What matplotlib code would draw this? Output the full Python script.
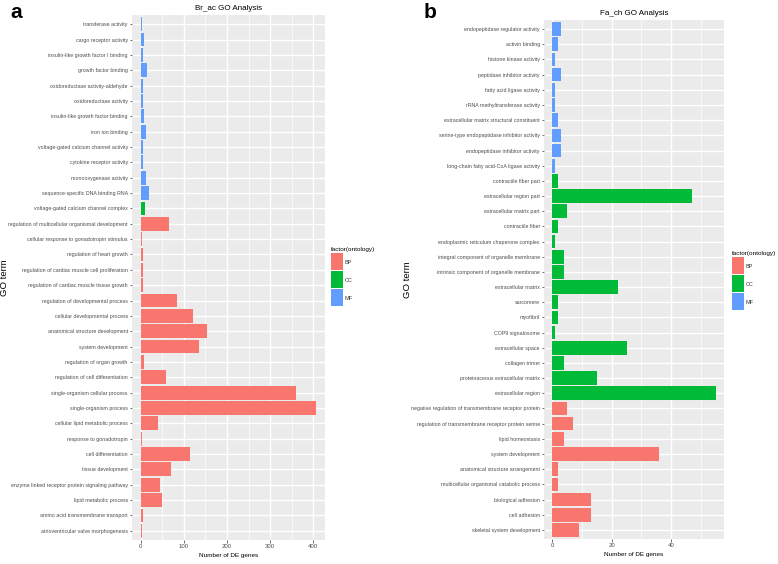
import matplotlib
matplotlib.use("Agg")
import matplotlib.pyplot as plt
from matplotlib.patches import Patch
from matplotlib.ticker import MultipleLocator, FixedLocator

# ---------------- data (listed top to bottom as shown) ----------------
left_terms = [
    "transferase activity", "cargo receptor activity", "insulin-like growth factor I binding",
    "growth factor binding", "oxidoreductase activity-aldehyde", "oxidoreductase activity",
    "insulin-like growth factor binding", "iron ion binding", "voltage-gated calcium channel activity",
    "cytokine receptor activity", "monooxygenase activity", "sequence-specific DNA binding RNA",
    "voltage-gated calcium channel complex",
    "regulation of multicellular organismal development", "cellular response to gonadotropin stimulus",
    "regulation of heart growth", "regulation of cardiac muscle cell proliferation",
    "regulation of cardiac muscle tissue growth", "regulation of developmental process",
    "cellular developmental process", "anatomical structure development", "system development",
    "regulation of organ growth", "regulation of cell differentiation",
    "single-organism cellular process", "single-organism process", "cellular lipid metabolic process",
    "response to gonadotropin", "cell differentiation", "tissue development",
    "enzyme linked receptor protein signaling pathway", "lipid metabolic process",
    "amino acid transmembrane transport", "atrioventricular valve morphogenesis",
]
left_counts = [2, 7, 5, 15, 5, 5, 7, 13, 5, 5, 11, 20,
               9,
               66, 3, 5, 5, 5, 83, 120, 154, 136, 8, 59, 361, 407, 40, 4, 114, 70, 44, 50, 5, 3]
left_ont = ["MF"] * 12 + ["CC"] * 1 + ["BP"] * 21

right_terms = [
    "endopeptidase regulator activity", "activin binding", "histone kinase activity",
    "peptidase inhibitor activity", "fatty acid ligase activity", "rRNA methyltransferase activity",
    "extracellular matrix structural constituent", "serine-type endopeptidase inhibitor activity",
    "endopeptidase inhibitor activity", "long-chain fatty acid-CoA ligase activity",
    "contractile fiber part", "extracellular region part", "extracellular matrix part",
    "contractile fiber", "endoplasmic reticulum chaperone complex",
    "integral component of organelle membrane", "intrinsic component of organelle membrane",
    "extracellular matrix", "sarcomere", "myofibril", "COP9 signalosome", "extracellular space",
    "collagen trimer", "proteinaceous extracellular matrix", "extracellular region",
    "negative regulation of transmembrane receptor protein",
    "regulation of transmembrane receptor protein serine", "lipid homeostasis",
    "system development", "anatomical structure arrangement",
    "multicellular organismal catabolic process", "biological adhesion", "cell adhesion",
    "skeletal system development",
]
right_counts = [3, 2, 1, 3, 1, 1, 2, 3, 3, 1,
                2, 47, 5, 2, 1, 4, 4, 22, 2, 2, 1, 25, 4, 15, 55,
                5, 7, 4, 36, 2, 2, 13, 13, 9]
right_ont = ["MF"] * 10 + ["CC"] * 15 + ["BP"] * 9

ont_levels = ["BP", "CC", "MF"]
ont_colors = {"BP": "#F8766D", "CC": "#00BA38", "MF": "#619CFF"}

left_ticks = [0, 100, 200, 300, 400]
right_ticks = [0, 20, 40]

# ---------------- styling ----------------
SANS = ["Liberation Sans", "DejaVu Sans"]
W, H = 778, 564
fig = plt.figure(figsize=(W / 100, H / 100), dpi=100)
fig.patch.set_facecolor("white")


def fx(px):
    return px / W


def fy(py):
    return 1 - py / H


def panel(rect, terms, counts, onts, ticks, minor_step, title):
    x0, y0, x1, y1 = rect
    ax = fig.add_axes([fx(x0), fy(y1), fx(x1) - fx(x0), fy(y0) - fy(y1)])
    ax.set_facecolor("#EBEBEB")
    n = len(terms)
    ypos = [n - 1 - i for i in range(n)]
    ax.barh(ypos, counts, height=0.9,
            color=[ont_colors[o] for o in onts], edgecolor="none", zorder=3)
    mx = max(counts)
    ax.set_xlim(-0.05 * mx, 1.05 * mx)
    ax.set_ylim(-0.6, n - 1 + 0.6)
    ax.set_yticks(ypos)
    ax.set_yticklabels(terms, fontsize=3.75, family=SANS, color="#4D4D4D")
    ax.xaxis.set_major_locator(FixedLocator(ticks))
    ax.xaxis.set_minor_locator(MultipleLocator(minor_step))
    ax.set_xticklabels([str(t) for t in ticks], fontsize=4.3, family=SANS, color="#4D4D4D")
    ax.grid(which="major", color="white", linewidth=1.0, zorder=0)
    ax.grid(which="minor", axis="x", color="white", linewidth=0.5, zorder=0)
    ax.set_axisbelow(True)
    for s in ax.spines.values():
        s.set_visible(False)
    ax.tick_params(axis="x", which="major", length=2.0, width=0.5, color="#333333", pad=1.2)
    ax.tick_params(axis="y", which="major", length=1.8, width=0.5, color="#333333", pad=1.2)
    ax.tick_params(which="minor", length=0)
    ax.set_xlabel("Number of DE genes", fontsize=4.6, family=SANS, color="black", labelpad=2.5)
    ax.set_title(title, fontsize=5.8, family=SANS, color="black", pad=3.5)
    return ax


axL = panel((132, 15, 325, 540), left_terms, left_counts, left_ont, left_ticks, 50,
            "Br_ac GO Analysis")
axR = panel((544, 20, 724, 539), right_terms, right_counts, right_ont, right_ticks, 10,
            "Fa_ch GO Analysis")

# y-axis titles
fig.text(fx(5), fy(278), "GO term", rotation=90, fontsize=6.8, family=SANS,
         ha="center", va="center", color="black")
fig.text(fx(408), fy(280), "GO term", rotation=90, fontsize=6.8, family=SANS,
         ha="center", va="center", color="black")

# panel letters
fig.text(fx(10), fy(13), "a", fontsize=15, fontweight="bold", family=SANS,
         ha="left", va="center")
fig.text(fx(424), fy(13), "b", fontsize=15, fontweight="bold", family=SANS,
         ha="left", va="center")

# legends
handles = [Patch(facecolor=ont_colors[o], edgecolor="none") for o in ont_levels]
for lx, ly in [(331, 247), (732, 251)]:
    leg = fig.legend(handles, ont_levels, title="factor(ontology)",
                     loc="upper left", bbox_to_anchor=(fx(lx), fy(ly)),
                     bbox_transform=fig.transFigure, frameon=False,
                     handlelength=1.75, handleheight=3.4,
                     handletextpad=0.25, labelspacing=0.2, borderpad=0.0,
                     borderaxespad=0, prop={"family": SANS, "size": 4.9})
    leg.get_title().set_family(SANS)
    leg.get_title().set_fontsize(4.6)
    leg._legend_box.align = "left"
    for t in leg.get_texts():
        t.set_color("#333333")
        t.set_fontsize(4.0)

fig.savefig("out.png", dpi=100, facecolor="white")
